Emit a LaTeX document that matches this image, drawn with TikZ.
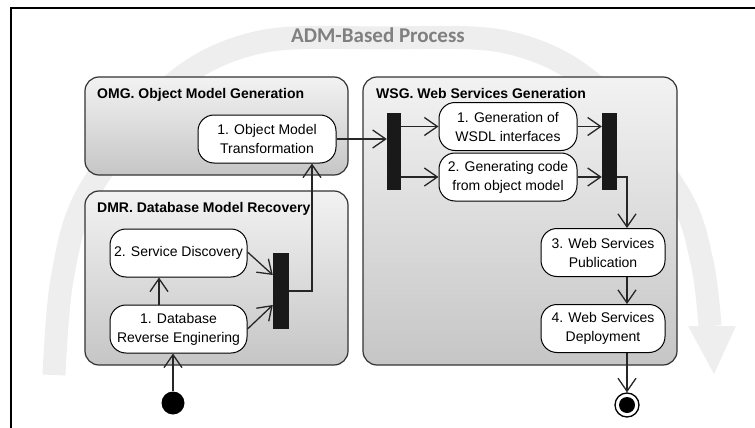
\documentclass[tikz,border=0pt]{standalone}
\usepackage{fontspec}
\setsansfont{Liberation Sans}
\newfontfamily\admfont{Carlito}
\usetikzlibrary{arrows.meta}
\begin{document}
\begin{tikzpicture}[x=1pt, y=-1pt,
    panel/.style={draw=black!80, line width=1.2pt, rounded corners=14pt, top color=gray!10, bottom color=gray!45, inner sep=0pt},
    ptitle/.style={anchor=base west, inner sep=0pt, font=\sffamily\bfseries\fontsize{14}{16}\selectfont},
    act/.style={draw, fill=white, line width=1pt, rounded corners=16pt, align=center, minimum height=48pt, inner sep=1pt, font=\sffamily\fontsize{14}{19}\selectfont},
    bar/.style={fill=black!90, minimum width=15pt, minimum height=77pt, inner sep=0pt},
    flow/.style={draw=black!85, line width=1.3pt, -{Straight Barb[length=13pt,width=18pt]}}]
  \useasboundingbox (0,0) rectangle (755,428);
  \draw[line width=1.5pt] (11,428) -- (11,8) -- (755,8);
  % ADM-Based Process band
  \draw[gray!13, line width=23pt] plot[smooth, tension=0.55] coordinates {(54,375) (62,280) (88,193) (172,85) (260,42) (383,38) (506,42) (594,85) (678,193) (702,262) (710,326)};
  \fill[gray!13] (688,326) -- (736,326) -- (714,374) -- cycle;
  \node[anchor=base, text=gray, font=\admfont\bfseries\fontsize{21}{24}\selectfont] (adm) at (378,43) {ADM-Based Process};
  % panels
  \node[panel, minimum width=263pt, minimum height=98pt] (omg) at (216.5,126) {};
  \node[panel, minimum width=263pt, minimum height=174pt] (dmr) at (216.5,278) {};
  \node[panel, minimum width=314pt, minimum height=288pt] (wsg) at (520,221) {};
  \node[ptitle] (omgt) at (97,99) {OMG. Object Model Generation};
  \node[ptitle] (dmrt) at (97,212) {DMR. Database Model Recovery};
  \node[ptitle] (wsgt) at (376,99) {WSG. Web Services Generation};
  % activities
  \node[act, minimum width=138pt] (omt) at (267,139) {1. Object Model\\Transformation};
  \node[act, minimum width=137pt] (sd) at (178.5,253) {2. Service Discovery};
  \node[act, minimum width=137pt] (dbr) at (178.5,329) {1. Database\\Reverse Enginering};
  \node[act, minimum width=138pt] (wsdl) at (508,126.5) {1. Generation of\\WSDL interfaces};
  \node[act, minimum width=138pt] (gen) at (508,177) {2. Generating code\\from object model};
  \node[act, minimum width=124pt] (pub) at (603,252.5) {3. Web Services\\Publication};
  \node[act, minimum width=124pt] (dep) at (603,328.5) {4. Web Services\\Deployment};
  \node[bar, minimum width=16pt, minimum height=76pt] (dbar) at (281,291) {};
  \node[bar, minimum width=14pt] (fork) at (394,151.5) {};
  \node[bar] (join) at (609.5,151.5) {};
  \node[circle, fill=black, minimum size=23pt, inner sep=0pt] (start) at (173,403) {};
  \node[circle, draw, line width=1.3pt, minimum size=24pt, inner sep=0pt,
        path picture={\fill (path picture bounding box.center) circle (8pt);}] (stop) at (627,405) {};
  % flows
  \draw[flow] (start) -- (dbr.south -| start);
  \draw[flow] ([xshift=-19.5pt]dbr.north) -- ([xshift=-19.5pt]sd.south);
  \draw[flow] ([yshift=1pt]sd.east) -- ([yshift=16pt]dbar.west);
  \draw[flow] (dbr.east) -- ([yshift=-14pt]dbar.west);
  \draw[flow] (dbar.east) -| ([xshift=45pt]omt.south);
  \draw[flow] (omt.east) -- (omt.east -| fork.west);
  \draw[flow] (wsdl.west -| fork.east) -- (wsdl.west);
  \draw[flow] (gen.west -| fork.east) -- (gen.west);
  \draw[flow] (wsdl.east) -- (wsdl.east -| join.west);
  \draw[flow] (gen.east) -- (gen.east -| join.west);
  \draw[flow] (gen.east -| join.east) -| ([xshift=24pt]pub.north);
  \draw[flow] ([xshift=24pt]pub.south) -- ([xshift=24pt]dep.north);
  \draw[flow] ([xshift=24pt]dep.south) -- (stop);
\end{tikzpicture}
\end{document}
